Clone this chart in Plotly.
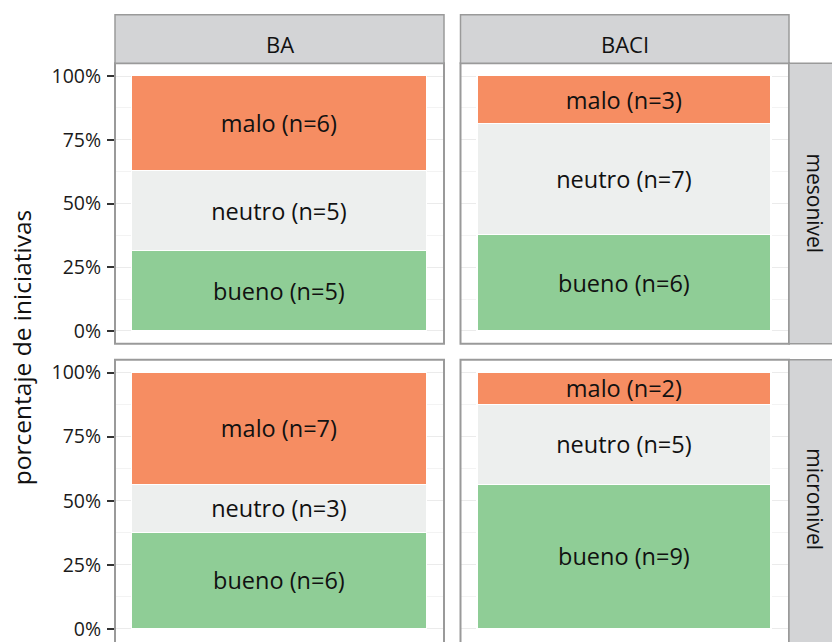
import plotly.graph_objects as go

# ---- data ----
niveles = ["mesonivel", "micronivel"]
enfoques = ["BA", "BACI"]
categorias = ["bueno", "neutro", "malo"]
conteos = {
    ("mesonivel", "BA"): [5, 5, 6],
    ("mesonivel", "BACI"): [6, 7, 3],
    ("micronivel", "BA"): [6, 3, 7],
    ("micronivel", "BACI"): [9, 5, 2],
}
colores = {"bueno": "#8FCD96", "neutro": "#EDEFEE", "malo": "#F68D62"}
y_ticks = [0, 0.25, 0.5, 0.75, 1.0]
y_ticklabels = ["0%", "25%", "50%", "75%", "100%"]
y_title = "porcentaje de iniciativas"

W, H = 832, 642
FONT = "Open Sans"


def X(px):
    return px / W


def Y(py):
    return 1 - py / H


# panel pixel geometry
col_x = [(115, 444), (460.5, 789)]
row_y = [(63, 346.5), (362.7, 642)]
row_range = [[-0.05, 1.05], [-0.028, 1.05]]
strip_top = 14
strip_right = 838

fig = go.Figure()
shapes = []
annotations = []

k = 0
for r, nivel in enumerate(niveles):
    for c, enf in enumerate(enfoques):
        k += 1
        sfx = "" if k == 1 else str(k)
        xa, ya = "x" + sfx, "y" + sfx
        vals = conteos[(nivel, enf)]
        total = sum(vals)
        for cat, n in zip(categorias, vals):
            fig.add_trace(go.Bar(
                x=[0], y=[n / total], width=[1.0],
                marker=dict(color=colores[cat], line=dict(color="white", width=1.2)),
                text=[f"{cat} (n={n})"], textposition="inside",
                insidetextanchor="middle",
                textfont=dict(family=FONT, size=23.5, color="#111111"),
                xaxis=xa, yaxis=ya, showlegend=False, hoverinfo="skip",
                cliponaxis=False,
            ))
        x0, x1 = col_x[c]
        y0, y1 = row_y[r]
        fig.layout["xaxis" + sfx] = dict(
            domain=[X(x0), X(x1)], range=[-0.5595, 0.5595], anchor=ya,
            showgrid=False, zeroline=False, showticklabels=False, ticks="",
        )
        fig.layout["yaxis" + sfx] = dict(
            domain=[Y(y1), Y(y0)], range=row_range[r], anchor=xa,
            tickvals=y_ticks, ticktext=y_ticklabels,
            showticklabels=(c == 0), ticks="outside" if c == 0 else "",
            ticklen=7, tickwidth=2, tickcolor="#333333",
            tickfont=dict(family=FONT, size=19.5, color="#1a1a1a"),
            ticklabeloverflow="allow", ticklabelstandoff=2,
            showgrid=True, gridcolor="#EBEBEB", gridwidth=1.3,
            minor=dict(tickvals=[0.125, 0.375, 0.625, 0.875], showgrid=True,
                       gridcolor="#F3F3F3", gridwidth=1, ticks=""),
            zeroline=False,
        )
        # panel border
        shapes.append(dict(type="rect", xref="paper", yref="paper",
                           x0=X(x0), x1=X(x1), y0=Y(y1 if r == 0 else 660), y1=Y(y0),
                           line=dict(color="#9A9A9A", width=2), layer="above"))

# top strips
for c, enf in enumerate(enfoques):
    x0, x1 = col_x[c]
    shapes.append(dict(type="rect", xref="paper", yref="paper",
                       x0=X(x0), x1=X(x1), y0=Y(63), y1=Y(strip_top),
                       fillcolor="#D3D4D6", line=dict(color="#9A9A9A", width=1.5)))
    annotations.append(dict(xref="paper", yref="paper", x=X((x0 + x1) / 2), y=Y(43),
                            xanchor="center", yanchor="middle",
                            text=enf, showarrow=False,
                            font=dict(family=FONT, size=22, color="#111111")))
# right strips
for r, nivel in enumerate(niveles):
    y0, y1 = row_y[r]
    shapes.append(dict(type="rect", xref="paper", yref="paper",
                       x0=X(789), x1=X(strip_right), y0=Y(y1 if r == 0 else 660), y1=Y(y0),
                       fillcolor="#D3D4D6", line=dict(color="#9A9A9A", width=1.5)))
    yc = (y0 + (y1 if r == 0 else 645)) / 2
    annotations.append(dict(xref="paper", yref="paper", x=X(815), y=Y(yc),
                            xanchor="center", yanchor="middle",
                            text=nivel, showarrow=False, textangle=90,
                            font=dict(family=FONT, size=21, color="#111111")))

annotations.append(dict(xref="paper", yref="paper", x=X(21), y=Y(351),
                        xanchor="center", yanchor="middle",
                        text=y_title, showarrow=False, textangle=-90,
                        font=dict(family=FONT, size=24.5, color="#111111")))

fig.update_layout(
    width=W, height=H, margin=dict(l=0, r=0, t=0, b=0),
    paper_bgcolor="white", plot_bgcolor="white",
    barmode="stack", bargap=0,
    uniformtext=dict(minsize=23, mode="show"),
    shapes=shapes, annotations=annotations,
)

fig.write_html("out.html", config={"displayModeBar": False},
               post_script="document.body.style.margin='0';document.body.style.overflow='hidden';")
